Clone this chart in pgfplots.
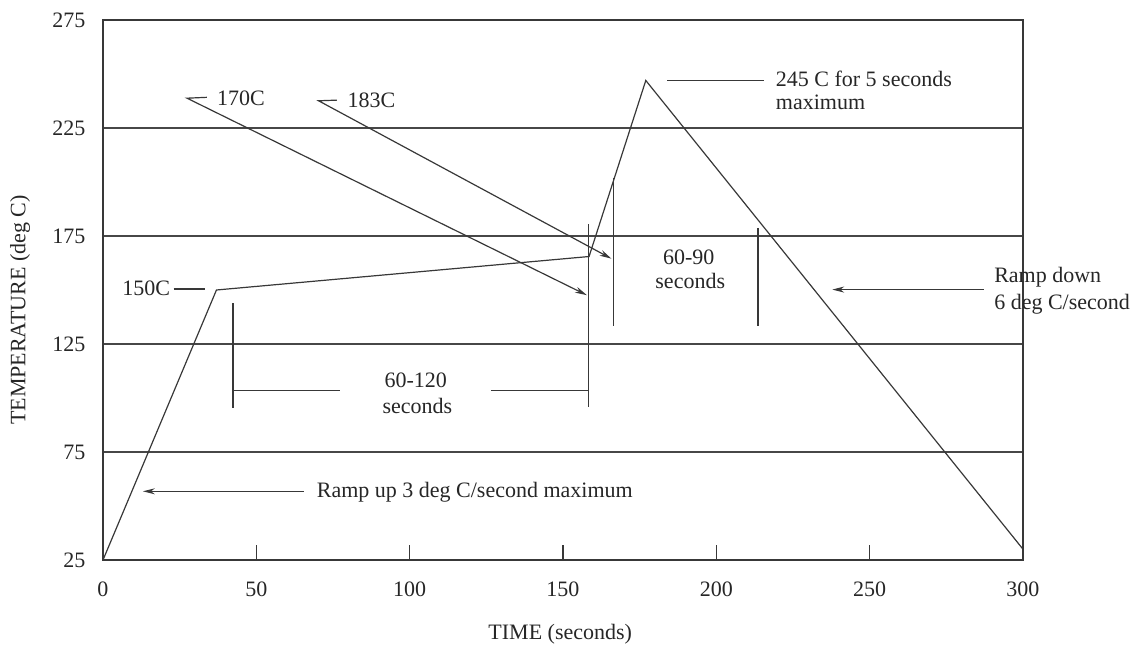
\documentclass[border=0pt]{standalone}
\usepackage{fontspec}
\setmainfont{Liberation Serif}
\usepackage{pgfplots}
\pgfplotsset{compat=1.18}
\usetikzlibrary{arrows.meta}
\tikzset{
  ln/.style={draw=black!78, line width=0.6pt, mark=none},
  arr/.style={ln, -{Stealth[length=6pt,width=3pt]}},
  lbl/.style={text=black!85, inner sep=0pt, font=\fontsize{11}{13}\selectfont},
}
\begin{document}
\begin{tikzpicture}[font=\fontsize{11}{13}\selectfont]
\begin{axis}[
  scale only axis, width=460pt, height=270pt,
  xmin=0, xmax=300, ymin=25, ymax=275,
  xtick={0,50,...,300}, ytick={25,75,...,275},
  xtick pos=bottom, xtick align=inside, major tick length=7.5pt,
  ytick style={draw=none},
  xtick style={draw=black!78, line width=0.6pt},
  ymajorgrids, grid style={draw=black!72, line width=0.6pt},
  axis line style={draw=black!78, line width=0.65pt},
  /pgf/number format/assume math mode=true,
  ticklabel style={font=\fontsize{11}{13}\selectfont, text=black!85},
  xticklabel style={yshift=-7.5pt},
  yticklabel style={xshift=-5.3pt},
  xlabel={TIME (seconds)}, ylabel={TEMPERATURE (deg C)},
  label style={font=\fontsize{11}{13}\selectfont, text=black!85},
  xlabel style={at={(axis description cs:0.497,-0.137)}, anchor=center},
  ylabel style={at={(axis description cs:-0.09,0.463)}, anchor=center},
  clip=false,
]
% temperature profile
\addplot[ln] coordinates {(0,25) (37,150) (158.5,165.5) (177,247) (300,30)};
% 150C leader
\addplot[ln] coordinates {(23,150.5) (33.3,150.5)};
% 170C leader
\addplot[arr] coordinates {(33.9,239.2) (27.4,238.8) (157.8,147.6)};
% 183C leader
\addplot[arr] coordinates {(76.3,237.9) (70.3,237.6) (165.8,164.5)};
% 245 C leader
\addplot[ln] coordinates {(184,247) (215.7,247)};
% 60-120 bracket
\addplot[ln] coordinates {(42.4,143.9) (42.4,95.5)};
\addplot[ln] coordinates {(158.3,180.4) (158.3,96)};
\addplot[ln] coordinates {(42.4,103.3) (77.3,103.3)};
\addplot[ln] coordinates {(126.5,103.3) (158.3,103.3)};
% 60-90 bracket
\addplot[ln] coordinates {(166.5,201.7) (166.5,133.5)};
\addplot[ln] coordinates {(213.6,178.8) (213.6,133.5)};
% ramp arrows
\addplot[arr] coordinates {(287.2,150.2) (237.8,150.2)};
\addplot[arr] coordinates {(65.4,56.8) (13,56.8)};
% labels
\node[lbl, anchor=base east] at (axis cs:22,147.3) {150C};
\node[lbl, anchor=base west] at (axis cs:37.1,235.5) {170C};
\node[lbl, anchor=base west] at (axis cs:79.6,234.5) {183C};
\node[lbl, anchor=base west] at (axis cs:219.3,244.3) {245 C for 5 seconds};
\node[lbl, anchor=base west] at (axis cs:219.3,233.5) {maximum};
\node[lbl, anchor=base] at (axis cs:191,162) {60-90};
\node[lbl, anchor=base] at (axis cs:191.5,150.6) {seconds};
\node[lbl, anchor=base] at (axis cs:102,105) {60-120};
\node[lbl, anchor=base] at (axis cs:102.5,92.6) {seconds};
\node[lbl, anchor=base west] at (axis cs:290.5,153.3) {Ramp down};
\node[lbl, anchor=base west] at (axis cs:290.5,141) {6 deg C/second};
\node[lbl, anchor=base west] at (axis cs:69.6,53.8) {Ramp up 3 deg C/second maximum};
\end{axis}
\pgfresetboundingbox
\path[use as bounding box] (-51.5pt,-43.5pt) rectangle (517pt,280pt);
\end{tikzpicture}
\end{document}
